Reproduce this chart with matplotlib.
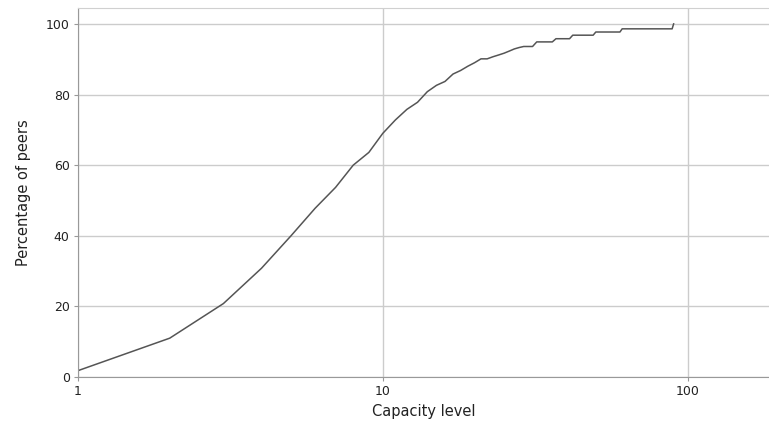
import numpy as np
import matplotlib
matplotlib.use("Agg")
import matplotlib.pyplot as plt
from matplotlib.ticker import FixedLocator, NullLocator, FixedFormatter

# capacity level (integer) and cumulative percentage of peers
capacity = [1, 2, 3, 4, 5, 6, 7, 8, 9, 10,
            11, 12, 13, 14, 15, 16, 17, 18, 19, 20,
            21, 22, 23, 24, 25, 26, 27, 28, 29, 31,
            32, 36, 37, 41, 42, 49, 50, 60, 61, 89, 90]
percent = [1.8, 11.0, 20.8, 30.8, 40.0, 47.8, 53.7, 60.0, 63.6, 69.0,
           72.8, 75.8, 77.8, 80.8, 82.6, 83.7, 85.8, 86.8, 88.0, 89.0,
           90.1, 90.1, 90.7, 91.2, 91.7, 92.3, 92.9, 93.3, 93.6, 93.6,
           94.9, 94.9, 95.8, 95.8, 96.8, 96.8, 97.7, 97.7, 98.6, 98.6, 100.0]

xticks = [1, 10, 100]
yticks = [0, 20, 40, 60, 80, 100]

fig = plt.figure(figsize=(7.69, 4.30), dpi=100)
ax = fig.add_axes([78/769, 53/430, 691/769, 369/430])

ax.plot(capacity, percent, color="#555555", lw=1.1)

ax.set_xscale("log")
ax.set_xlim(1, 185)
ax.set_ylim(0, 104.5)
ax.xaxis.set_major_locator(FixedLocator(xticks))
ax.xaxis.set_major_formatter(FixedFormatter([str(t) for t in xticks]))
ax.xaxis.set_minor_locator(NullLocator())
ax.set_yticks(yticks)

ax.grid(True, color="#cccccc", lw=1)
ax.set_axisbelow(True)
ax.spines["right"].set_visible(False)
ax.spines["top"].set_color("#d0d0d0")
ax.spines["left"].set_color("#999999")
ax.spines["bottom"].set_color("#999999")
ax.tick_params(axis="both", length=3, color="#999999", labelsize=9, labelcolor="#222222", pad=3)

ax.set_xlabel("Capacity level", fontsize=10.5, color="#222222", labelpad=4)
ax.set_ylabel("Percentage of peers", fontsize=10.5, color="#222222", labelpad=11)

fig.savefig("out.png", dpi=100)
